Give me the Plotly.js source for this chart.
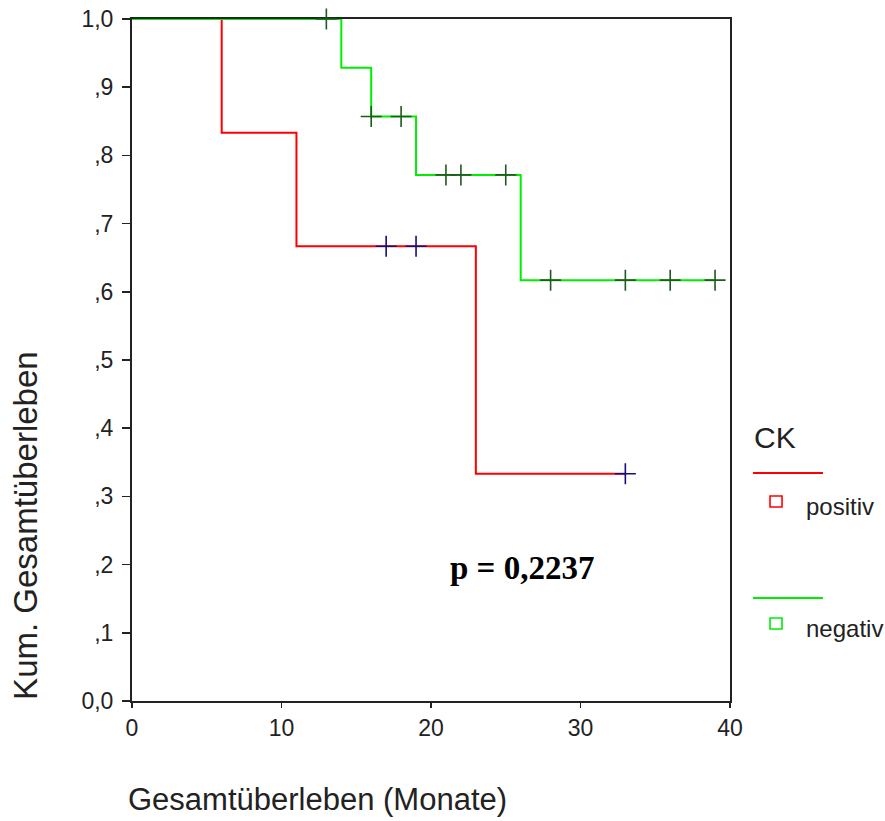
<!DOCTYPE html>
<html>
<head>
<meta charset="utf-8">
<script src="https://cdn.plot.ly/plotly-3.0.1.min.js"></script>
<style>html,body{margin:0;padding:0;background:#fff;}#chart{width:885px;height:821px;}</style>
</head>
<body>
<div id="chart"></div>
<script>
// Kaplan-Meier data
const posTimes = [0, 6, 11, 23, 33];
const posSurv = [1.0, 0.8333, 0.6667, 0.3333, 0.3333];
const posCensTimes = [17, 19, 33];
const posCensSurv = [0.6667, 0.6667, 0.3333];

const negTimes = [0, 14, 16, 19, 26, 39];
const negSurv = [1.0, 0.9286, 0.8571, 0.7714, 0.6171, 0.6171];
const negCensTimes = [13, 16, 18, 21, 22, 25, 28, 33, 36, 39];
const negCensSurv = [1.0, 0.8571, 0.8571, 0.7714, 0.7714, 0.7714, 0.6171, 0.6171, 0.6171, 0.6171];

const yTickVals = [0, 0.1, 0.2, 0.3, 0.4, 0.5, 0.6, 0.7, 0.8, 0.9, 1.0];
const yTickText = ["0,0", ",1", ",2", ",3", ",4", ",5", ",6", ",7", ",8", ",9", "1,0"];
const xTickVals = [0, 10, 20, 30, 40];

const groupNames = ["positiv", "negativ"];
const pText = "p = 0,2237";

const traces = [
  {x: posTimes, y: posSurv, mode: 'lines', line: {shape: 'hv', color: '#ff0000', width: 2}, hoverinfo: 'skip', cliponaxis: false},
  {x: negTimes, y: negSurv, mode: 'lines', line: {shape: 'hv', color: '#00ee00', width: 2}, hoverinfo: 'skip', cliponaxis: false},
  {x: posCensTimes, y: posCensSurv, mode: 'markers', marker: {symbol: 'cross-thin', size: 15, line: {color: '#10107f', width: 1.6}}, hoverinfo: 'skip', cliponaxis: false},
  {x: negCensTimes, y: negCensSurv, mode: 'markers', marker: {symbol: 'cross-thin', size: 15, line: {color: '#1f5a1f', width: 1.6}}, hoverinfo: 'skip', cliponaxis: false}
];

const fontFam = 'Liberation Sans, Arial, sans-serif';
const layout = {
  width: 885, height: 821,
  margin: {l: 132, r: 155, t: 19, b: 120},
  paper_bgcolor: '#fff', plot_bgcolor: '#fff',
  showlegend: false,
  font: {family: fontFam, color: '#222'},
  xaxis: {
    range: [0, 40], tickvals: xTickVals, ticktext: xTickVals.map(String),
    showgrid: false, zeroline: false, showline: true, linecolor: '#222', linewidth: 2,
    mirror: true, ticks: 'outside', ticklen: 5, tickwidth: 1.5, tickcolor: '#222',
    tickfont: {size: 23, family: fontFam, color: '#222'}, layer: 'below traces'
  },
  yaxis: {
    range: [0, 1], tickvals: yTickVals, ticktext: yTickText,
    showgrid: false, zeroline: false, showline: true, linecolor: '#222', linewidth: 2,
    mirror: true, ticks: 'outside', ticklen: 8, tickwidth: 1.5, tickcolor: '#222',
    ticklabelstandoff: 4,
    tickfont: {size: 23, family: fontFam, color: '#222'}, layer: 'below traces'
  },
  annotations: [
    {text: 'Kum. Gesamtüberleben', xref: 'paper', yref: 'paper', x: -0.177, y: 0.257, textangle: -90,
     showarrow: false, font: {size: 33, family: fontFam, color: '#222'}, xanchor: 'center', yanchor: 'middle'},
    {text: 'Gesamtüberleben (Monate)', xref: 'paper', yref: 'paper', x: 0.311, y: -0.145,
     showarrow: false, font: {size: 31, family: fontFam, color: '#222'}, xanchor: 'center', yanchor: 'middle'},
    {text: '<b>' + pText + '</b>', xref: 'x', yref: 'y', x: 26.1, y: 0.195,
     showarrow: false, font: {size: 33, family: 'Liberation Serif, Times New Roman, serif', color: '#000'}, xanchor: 'center', yanchor: 'middle'},
    {text: 'CK', xref: 'paper', yref: 'paper', x: 1.036, y: 0.387,
     showarrow: false, font: {size: 30, family: fontFam, color: '#222'}, xanchor: 'left', yanchor: 'middle'},
    {text: groupNames[0], xref: 'paper', yref: 'paper', x: 1.123, y: 0.2845,
     showarrow: false, font: {size: 24, family: fontFam, color: '#222'}, xanchor: 'left', yanchor: 'middle'},
    {text: groupNames[1], xref: 'paper', yref: 'paper', x: 1.123, y: 0.107,
     showarrow: false, font: {size: 24, family: fontFam, color: '#222'}, xanchor: 'left', yanchor: 'middle'}
  ],
  shapes: [
    {type: 'line', xref: 'paper', yref: 'paper', x0: 1.0385, x1: 1.1555, y0: 0.3343, y1: 0.3343, line: {color: '#ff0000', width: 2}},
    {type: 'line', xref: 'paper', yref: 'paper', x0: 1.0385, x1: 1.1555, y0: 0.151, y1: 0.151, line: {color: '#00ee00', width: 2}},
    {type: 'rect', xref: 'paper', yref: 'paper', x0: 1.0669, x1: 1.0870, y0: 0.2845, y1: 0.3006, line: {color: '#ff0000', width: 1.6}},
    {type: 'rect', xref: 'paper', yref: 'paper', x0: 1.0669, x1: 1.0870, y0: 0.1056, y1: 0.1217, line: {color: '#00ee00', width: 1.6}}
  ]
};

Plotly.newPlot('chart', traces, layout, {staticPlot: true, displayModeBar: false});
</script>
</body>
</html>
